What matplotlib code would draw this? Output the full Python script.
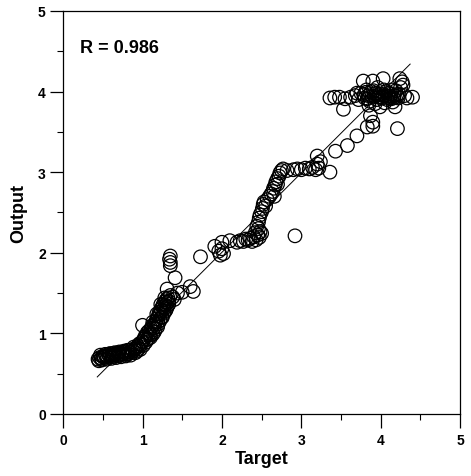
import matplotlib
matplotlib.use("Agg")
import matplotlib.pyplot as plt
from matplotlib.ticker import MultipleLocator

plt.rcParams['font.family'] = ['Liberation Sans', 'DejaVu Sans']

# Segment A: low flat band
target_a = [0.44,0.46,0.48,0.50,0.52,0.54,0.56,0.58,0.60,0.62,0.64,0.66,0.68,0.70,0.72,0.74,0.76,0.78,0.80,0.82,0.84,0.86,0.88,0.90,
            0.47,0.53,0.59,0.65,0.71,0.77,0.83,0.89,
            0.45,0.49,0.51,0.55,0.57,0.61,0.63,0.67,0.69,0.73,0.75,0.79,0.81,0.85,0.87,0.91,0.93,0.95]
output_a = [0.68,0.70,0.69,0.71,0.70,0.72,0.71,0.73,0.72,0.71,0.73,0.74,0.72,0.74,0.73,0.75,0.74,0.76,0.74,0.75,0.77,0.76,0.78,0.80,
            0.73,0.74,0.75,0.76,0.77,0.78,0.79,0.83,
            0.66,0.67,0.72,0.68,0.74,0.69,0.75,0.70,0.76,0.71,0.77,0.72,0.79,0.73,0.80,0.76,0.78,0.81]
# Segment B: steep rise near 1
target_b = [0.92,0.94,0.96,0.98,1.00,1.02,1.03,1.05,1.06,1.08,1.09,1.11,1.12,1.14,1.15,1.17,1.18,1.19,1.20,1.21,1.22,1.23,1.24,1.25,
            1.26,1.27,1.28,1.29,1.30,1.31,1.32,1.33,1.00,1.10,1.20,1.25,1.30,1.35,1.15,1.05,
            0.97,1.01,1.04,1.07,1.10,1.13,1.16,1.19,1.22,1.24,1.27,1.29,1.31,1.33,1.13,1.18,1.23,1.28]
output_b = [0.82,0.84,0.87,0.86,0.90,0.93,0.96,0.98,1.01,1.03,1.00,1.06,1.09,1.07,1.12,1.15,1.18,1.14,1.22,1.26,1.24,1.30,1.28,1.33,
            1.36,1.31,1.39,1.35,1.42,1.38,1.44,1.40,1.10,0.98,1.12,1.20,1.30,1.47,1.02,0.92,
            0.80,0.85,0.89,0.93,0.95,0.99,1.05,1.08,1.16,1.20,1.25,1.28,1.33,1.36,1.14,1.24,1.36,1.44]
# Segment C
target_c = [1.31,1.35,1.35,1.34,1.35,1.41,1.44,1.50,1.60,1.64,1.73,1.38,1.40]
output_c = [1.55,1.84,1.88,1.92,1.96,1.69,1.50,1.51,1.58,1.52,1.95,1.45,1.42]
# Segment D: band near 2.1-2.2
target_d = [1.91,1.96,1.98,2.00,2.00,2.02,2.10,2.19,2.23,2.27,2.30,2.33,2.36,2.40,2.43,2.45,2.47,2.48,2.50,2.46,2.38,2.42]
output_d = [2.08,2.02,1.97,2.05,2.13,1.99,2.15,2.13,2.15,2.14,2.17,2.16,2.18,2.20,2.16,2.22,2.19,2.26,2.24,2.30,2.14,2.25]
# Segment E: rise 2.4-2.8
target_e = [2.44,2.46,2.47,2.48,2.50,2.51,2.52,2.53,2.55,2.57,2.60,2.62,2.64,2.65,2.67,2.68,2.70,2.72,2.73,2.75,2.77,2.66,2.70]
output_e = [2.33,2.38,2.43,2.47,2.51,2.55,2.60,2.63,2.58,2.66,2.70,2.73,2.76,2.80,2.84,2.88,2.92,2.95,2.99,3.02,3.04,2.70,2.85]
# Segment F: band near 3
target_f = [2.82,2.90,2.95,3.00,3.05,3.10,3.14,3.18,3.20,3.20,3.24,3.22,3.36,3.43,3.58,3.70,3.83,3.90,2.92]
output_f = [3.02,3.03,3.04,3.03,3.05,3.04,3.06,3.03,3.10,3.20,3.13,3.05,3.00,3.26,3.33,3.45,3.56,3.62,2.21]
# Segment G: top cluster near 4
target_g = [3.36,3.42,3.48,3.55,3.53,3.62,3.68,3.72,3.75,3.78,3.80,3.82,3.84,3.86,3.87,3.88,3.90,3.90,3.92,3.94,3.95,3.96,3.98,3.99,
            4.00,4.02,4.03,4.04,4.06,4.08,4.10,4.12,4.14,4.16,4.18,4.20,4.21,4.22,4.24,4.25,4.27,4.30,4.33,4.40,4.28,3.85,3.93,4.05,4.15,3.70,
            3.79,3.83,3.89,3.91,3.97,4.01,4.07,4.09,4.11,4.13,4.17,4.19,4.23,3.81,3.95,4.03,4.13,4.21]
output_g = [3.92,3.93,3.93,3.91,3.78,3.93,3.95,3.90,3.98,4.13,3.92,4.02,3.95,3.88,3.70,4.00,4.13,3.57,3.94,3.98,3.90,4.05,3.93,3.81,
            3.97,3.92,4.16,4.02,3.95,3.90,3.98,3.94,4.02,3.92,3.81,3.96,3.54,3.92,4.16,4.05,4.12,3.95,3.92,3.93,4.08,3.83,3.85,3.86,3.87,3.98,
            3.96,3.91,3.94,4.01,3.96,3.93,4.00,3.94,3.92,3.97,3.95,4.01,3.97,3.99,3.95,3.95,3.91,3.94]

target = target_a + target_b + target_c + target_d + target_e + target_f + target_g
output = output_a + output_b + output_c + output_d + output_e + output_f + output_g

fit_x = [0.43, 4.37]
fit_slope = 0.985
fit_intercept = 0.036
r_text = "R = 0.986"

fig = plt.figure(figsize=(4.71, 4.77), dpi=100)
ax = fig.add_axes([0.134, 0.130, 0.843, 0.845])

ax.scatter(target, output, s=95, facecolors='none', edgecolors='black', linewidths=0.9, zorder=3)
ax.plot(fit_x, [fit_slope * v + fit_intercept for v in fit_x], color='black', lw=0.7, zorder=2)

ax.set_xlim(0, 5)
ax.set_ylim(0, 5)
ax.xaxis.set_major_locator(MultipleLocator(1))
ax.yaxis.set_major_locator(MultipleLocator(1))
ax.xaxis.set_minor_locator(MultipleLocator(0.5))
ax.yaxis.set_minor_locator(MultipleLocator(0.5))
ax.tick_params(which='major', direction='out', length=10, width=0.9, pad=4)
ax.tick_params(which='minor', direction='out', length=4.5, width=0.8)
ax.tick_params(axis='y', which='major', length=9.5, pad=3)
for lab in ax.get_xticklabels() + ax.get_yticklabels():
    lab.set_fontweight('bold')
    lab.set_fontsize(10)

ax.set_xlabel("Target", fontsize=13, fontweight='bold', labelpad=2)
ax.set_ylabel("Output", fontsize=13, fontweight='bold', labelpad=8)
ax.text(0.21, 4.55, r_text, fontsize=13, fontweight='bold', va='center', ha='left')

for sp in ax.spines.values():
    sp.set_linewidth(0.9)

fig.savefig("out.png", dpi=100)
